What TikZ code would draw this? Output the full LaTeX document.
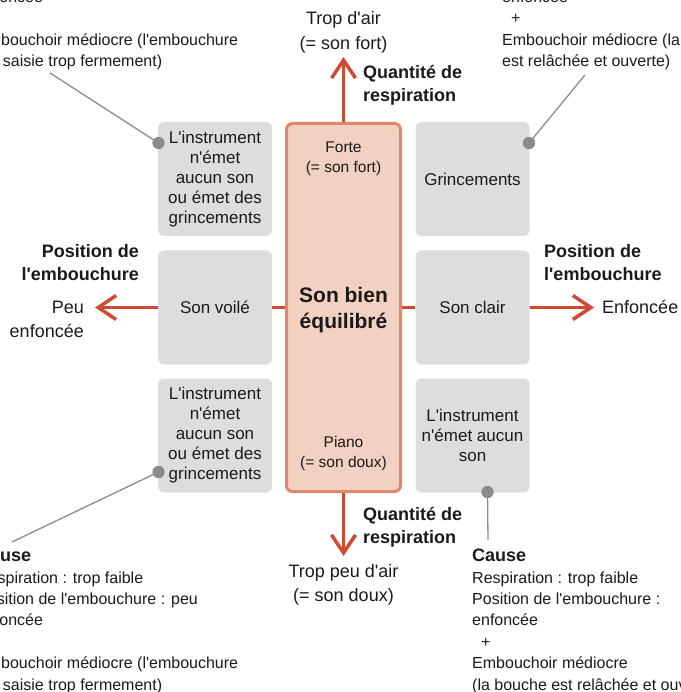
\documentclass[tikz,border=0pt]{standalone}
\usepackage{fontspec}
\setmainfont{Liberation Sans}[Ligatures=TeXOff]
\usetikzlibrary{arrows.meta}
\definecolor{redar}{HTML}{CF4A32}
\definecolor{pinkfill}{HTML}{F2D1C1}
\definecolor{pinkdraw}{HTML}{E0876B}
\definecolor{grayfill}{HTML}{DCDDDF}
\definecolor{dotgray}{HTML}{8A8B8F}
\definecolor{leadgray}{HTML}{8C8C8C}
\definecolor{txt}{HTML}{1A1A1A}
\begin{document}
\begin{tikzpicture}[x=1pt,y=-1pt,
  every node/.style={text=txt},
  graybox/.style={fill=grayfill, rounded corners=6pt, minimum width=114pt, minimum height=114pt, inner sep=0pt, align=center, font=\fontsize{17}{20}\selectfont},
  centerbox/.style={fill=pinkfill, draw=pinkdraw, line width=3pt, rounded corners=6pt, minimum width=114pt, minimum height=368pt, inner sep=0pt},
  ctext/.style={align=center, font=\fontsize{15.5}{20}\selectfont, inner sep=0pt},
  bigtext/.style={align=center, font=\bfseries\fontsize{21}{26}\selectfont, inner sep=0pt},
  axlabel/.style={font=\bfseries\fontsize{18}{23.5}\selectfont, inner sep=0pt},
  endlabel/.style={font=\fontsize{18}{24.5}\selectfont, inner sep=0pt},
  causetitle/.style={font=\bfseries\fontsize{18}{22}\selectfont, inner sep=0pt, anchor=west},
  causebody/.style={font=\fontsize{16}{21.4}\selectfont, inner sep=0pt, anchor=west, align=left},
  redline/.style={draw=redar, line width=3.5pt},
  redarrow/.style={draw=redar, line width=3.5pt, -{Straight Barb[length=18pt,width=24pt]}},
  leader/.style={draw=leadgray, line width=1.3pt},
  dot/.style={circle, fill=dotgray, minimum size=12pt, inner sep=0pt}
]
\useasboundingbox (0,0) rectangle (680,692);
\begin{scope}
\clip (0,0) rectangle (680,692);

% central box
\node[centerbox] (c) at (343.5,307.5) {};
\node[ctext] (forte) at (343.5,159) {Forte\\(= son fort)};
\node[bigtext] (equil) at (343.5,310.5) {Son bien\\équilibré};
\node[ctext] (piano) at (343.5,453.5) {Piano\\(= son doux)};

% gray boxes
\node[graybox] (tl) at (215,179) {L'instrument\\n'émet\\aucun son\\ou émet des\\grincements};
\node[graybox] (tr) at (472.5,179) {Grincements};
\node[graybox] (ml) at (215,307.5) {Son voilé};
\node[graybox] (mr) at (472.5,307.5) {Son clair};
\node[graybox] (bl) at (215,435.5) {L'instrument\\n'émet\\aucun son\\ou émet des\\grincements};
\node[graybox] (br) at (472.5,435.5) {L'instrument\\n'émet aucun\\son};

% arrow end points
\coordinate (toptip) at (343.5,57);
\coordinate (bottip) at (343.5,556);
\coordinate (lefttip) at (95,307.5);
\coordinate (righttip) at (594,307.5);

% arrows
\draw[redarrow] (c.north) -- (toptip);
\draw[redarrow] (c.south) -- (bottip);
\draw[redline] (c.west) -- (ml.east);
\draw[redline] (c.east) -- (mr.west);
\draw[redarrow] (ml.west) -- (lefttip);
\draw[redarrow] (mr.east) -- (righttip);

% axis labels
\node[endlabel, align=center] (airtop) at (343.5,32.5) {Trop d'air\\(= son fort)};
\node[axlabel, anchor=west, align=left] (qtop) at (363,85.5) {Quantité de\\respiration};
\node[axlabel, anchor=west, align=left] (qbot) at (363,527.5) {Quantité de\\respiration};
\node[endlabel, align=center] (airbot) at (343.5,585) {Trop peu d'air\\(= son doux)};
\node[axlabel, anchor=east, align=right] (posl) at (139,262.5) {Position de\\l'embouchure};
\node[endlabel, anchor=east, align=right] (peu) at (84,319.5) {Peu\\enfoncée};
\node[axlabel, anchor=west, align=left] (posr) at (544,262.5) {Position de\\l'embouchure};
\node[endlabel, anchor=west] (enf) at (602,306.5) {Enfoncée};

% leader lines and dots
\coordinate (ltl) at (50,73);
\coordinate (ltr) at (585,75);
\coordinate (lbl) at (12,542);
\coordinate (lbr) at (488,540);
\node[dot] (dtl) at (158.5,143) {};
\node[dot] (dtr) at (529,143) {};
\node[dot] (dbl) at (158.5,472) {};
\node[dot] (dbr) at (487.5,492) {};
\draw[leader] (dtl.center) -- (ltl);
\draw[leader] (dtr.center) -- (ltr);
\draw[leader] (dbl.center) -- (lbl);
\draw[leader] (dbr.center) -- (lbr);
\node[dot] at (dtl) {};
\node[dot] at (dtr) {};
\node[dot] at (dbl) {};
\node[dot] at (dbr) {};

% cause texts
\node[causetitle] (ctl) at (-23,-68) {Cause};
\node[causebody] (btl) at (-23,9) {Respiration : trop forte\\Position de l'embouchure : peu\\enfoncée\\\hspace*{9pt}+\\Embouchoir médiocre (l'embouchure\\est saisie trop fermement)};
\node[causetitle] (ctr) at (502,-68) {Cause};
\node[causebody] (btr) at (502,9) {Respiration : trop forte\\Position de l'embouchure :\\enfoncée\\\hspace*{9pt}+\\Embouchoir médiocre (la bouche\\est relâchée et ouverte)};
\node[causetitle] (cbl) at (-23,555) {Cause};
\node[causebody] (bbl) at (-23,632.5) {Respiration : trop faible\\Position de l'embouchure : peu\\enfoncée\\\hspace*{9pt}+\\Embouchoir médiocre (l'embouchure\\est saisie trop fermement)};
\node[causetitle] (cbr) at (472,555) {Cause};
\node[causebody] (bbr) at (472,632.5) {Respiration : trop faible\\Position de l'embouchure :\\enfoncée\\\hspace*{9pt}+\\Embouchoir médiocre\\(la bouche est relâchée et ouverte)};
\end{scope}
\end{tikzpicture}
\end{document}
